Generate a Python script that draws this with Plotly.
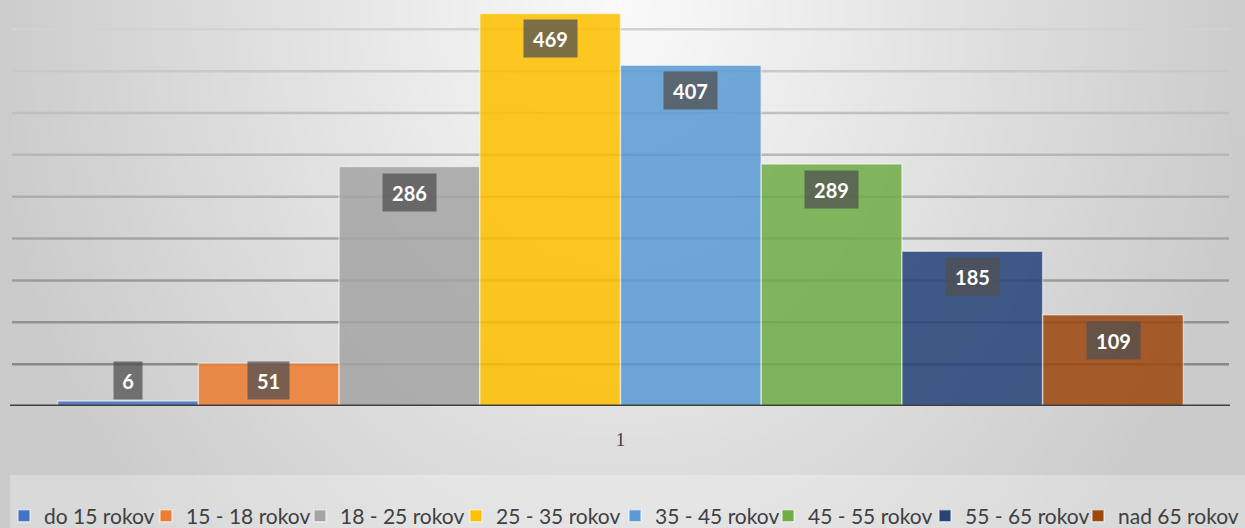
import base64, struct, zlib
import plotly.graph_objects as go

# ---- data ----
categories = ["1"]
series_names = ["do 15 rokov", "15 - 18 rokov", "18 - 25 rokov", "25 - 35 rokov",
                "35 - 45 rokov", "45 - 55 rokov", "55 - 65 rokov", "nad 65 rokov"]
series_values = [6, 51, 286, 469, 407, 289, 185, 109]
series_colors = ["#4472C4", "#ED7D31", "#A5A5A5", "#FFC000",
                 "#5B9BD5", "#70AD47", "#264478", "#9E480E"]
grid_values = [50, 100, 150, 200, 250, 300, 350, 400, 450]

W, H = 1245, 528
ML, MR, MT, MB = 12, 16, 0, 122
PW, PH = W - ML - MR, H - MT - MB
YMAX = 485
BARGAP = 0.075
# left edge (px) of each legend entry, as laid out in the reference
legend_px = [4, 146, 300, 456, 615, 768, 925, 1078]


# ---- radial gradient background as an inline PNG ----
def gradient_png(w, h):
    rows = []
    for j in range(h):
        row = bytearray([0])
        py = (j + 0.5) / h * H
        for i in range(w):
            px = (i + 0.5) / w * W
            dx = (px - 620) / 640.0
            dy = py / 780.0
            t = min(1.0, (dx * dx + dy * dy) ** 0.5)
            g = int(round(250 - 47 * t))
            row += bytes([g, g, g])
        rows.append(bytes(row))
    raw = b"".join(rows)

    def chunk(tag, data):
        c = struct.pack(">I", len(data)) + tag + data
        return c + struct.pack(">I", zlib.crc32(tag + data) & 0xffffffff)

    png = b"\x89PNG\r\n\x1a\n"
    png += chunk(b"IHDR", struct.pack(">IIBBBBB", w, h, 8, 2, 0, 0, 0))
    png += chunk(b"IDAT", zlib.compress(raw, 9))
    png += chunk(b"IEND", b"")
    return "data:image/png;base64," + base64.b64encode(png).decode()


fig = go.Figure()
legend_layouts = {}
for k, (name, val, col) in enumerate(zip(series_names, series_values, series_colors)):
    lg = "legend" if k == 0 else f"legend{k + 1}"
    fig.add_trace(go.Bar(
        x=categories, y=[val], name=name, legend=lg,
        marker=dict(color=col, opacity=0.86,
                    line=dict(color="rgba(255,255,255,0.55)", width=1.5)),
        hoverinfo="name+y",
    ))
    legend_layouts[lg] = dict(
        orientation="h", x=(legend_px[k] - ML) / PW, xanchor="left",
        y=(PH - (516 - MT)) / PH, yanchor="middle",
        font=dict(family="Lato", size=21, color="#404040"),
        bgcolor="rgba(0,0,0,0)", itemwidth=30,
    )

# data labels (dark boxes near the top of each bar)
n = len(series_values)
bw = (1 - BARGAP) / n
px_per_unit = PH / YMAX
for i, v in enumerate(series_values):
    xc = -0.5 + BARGAP / 2 + (i + 0.5) * bw
    yc = max(v - 25.5 / px_per_unit, 26 / px_per_unit)
    txt = str(v)
    fig.add_annotation(
        x=xc, y=yc, xref="x", yref="y", text=txt, showarrow=False,
        xanchor="center", yanchor="middle",
        width=round(12.3 * len(txt)), height=21,
        font=dict(family="Lato", size=20, color="white", weight="bold"),
        bgcolor="rgba(80,80,80,0.75)", borderpad=8,
    )

shapes = []
# gridlines, graded from dark (bottom) to light (top)
for g in grid_values:
    f = g / 450
    c = int(round(128 + (210 - 128) * f))
    shapes.append(dict(type="line", xref="paper", yref="y", x0=0, x1=1, y0=g, y1=g,
                       line=dict(color=f"rgb({c},{c},{c})", width=2.5), layer="below"))
# baseline
shapes.append(dict(type="line", xref="paper", yref="y", x0=-2 / PW, x1=1 + 1 / PW, y0=0, y1=0,
                   line=dict(color="#404040", width=3), layer="above"))
# legend panel
shapes.append(dict(type="rect", xref="paper", yref="paper",
                   x0=(10 - ML) / PW, x1=(W - ML) / PW,
                   y0=(PH - (H - MT)) / PH, y1=(PH - (475 - MT)) / PH,
                   fillcolor="rgba(255,255,255,0.28)", line=dict(width=0), layer="below"))

fig.update_layout(
    width=W, height=H,
    margin=dict(l=ML, r=MR, t=MT, b=MB, autoexpand=False),
    barmode="group", bargap=BARGAP, bargroupgap=0,
    paper_bgcolor="#d6d6d6", plot_bgcolor="rgba(0,0,0,0)",
    shapes=shapes,
    images=[dict(source=gradient_png(249, 106), xref="paper", yref="paper",
                 x=-ML / PW, y=1 + MT / PH, sizex=W / PW, sizey=H / PH,
                 xanchor="left", yanchor="top", sizing="stretch", layer="below")],
    xaxis=dict(range=[-0.5, 0.5], showgrid=False, showline=False, zeroline=False,
               ticks="outside", ticklen=16, tickcolor="rgba(0,0,0,0)",
               tickfont=dict(family="Liberation Serif", size=19, color="#404040")),
    yaxis=dict(range=[0, YMAX], showgrid=False, zeroline=False, showticklabels=False,
               showline=False),
    showlegend=True,
    font=dict(family="Lato"),
    **legend_layouts,
)

fig.write_html("out.html", config={"displayModeBar": False},
               post_script="document.body.style.margin='0';document.body.style.overflow='hidden';")
